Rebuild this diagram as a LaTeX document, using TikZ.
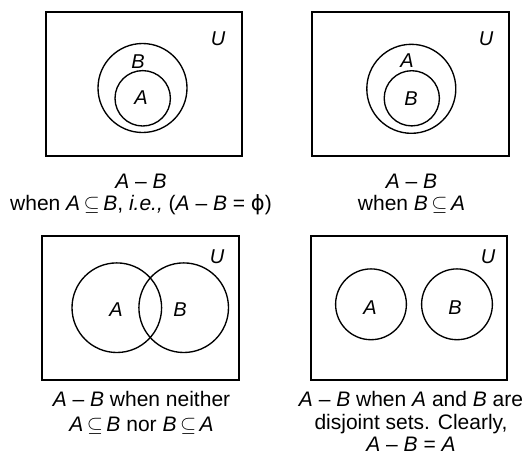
\documentclass[tikz,border=0pt]{standalone}
\usepackage{fontspec}
\setmainfont{Liberation Sans}
\newfontfamily\symfont{DejaVu Sans}
\newcommand{\iA}{\textit{A}}
\newcommand{\iB}{\textit{B}}
\newcommand{\sbe}{\,$\subseteq$\,}
\begin{document}
\begin{tikzpicture}[x=1pt,y=-1pt,
  line width=1.35pt,
  frame/.style={draw=black},
  setc/.style={draw=black},
  lbl/.style={font=\fontsize{20}{22}\selectfont\itshape, inner sep=0pt},
  captxt/.style={font=\fontsize{21}{23}\selectfont, anchor=base, inner sep=0pt,
    text height=15pt, text depth=4pt}]
\useasboundingbox (0,0) rectangle (527,456);
% ---------- top left
\draw[frame] (46,12) rectangle (242,156);
\node[lbl] (u1) at (218,39) {U};
\draw[setc] (142.5,88) circle (44.5);
\draw[setc] (142.7,98.3) circle (27.7);
\node[lbl] (b1) at (138,62) {B};
\node[lbl] (a1) at (141,98) {A};
\node[captxt] (c1a) at (141,188) {\iA\ – \iB};
\node[captxt] (c1b) at (141,210) {when \iA\sbe\iB, \textit{i.e.,} (\iA\ – \iB\ = {\symfont ϕ})};
% ---------- top right
\draw[frame] (312,12) rectangle (509,156);
\node[lbl] (u2) at (486,39) {U};
\draw[setc] (411.3,88.8) circle (44.5);
\draw[setc] (411.8,98.3) circle (27.6);
\node[lbl] (a2) at (407,61) {A};
\node[lbl] (b2) at (411,99) {B};
\node[captxt] (c2a) at (411.5,188) {\iA\ – \iB};
\node[captxt] (c2b) at (411.5,210) {when \iB\sbe\iA};
% ---------- bottom left
\draw[frame] (42,236) rectangle (239,380);
\node[lbl] (u3) at (217,257) {U};
\draw[setc] (116.8,307.7) circle (44.8);
\draw[setc] (183.7,307.7) circle (44.8);
\node[lbl] (a3) at (116,310) {A};
\node[lbl] (b3) at (180,310) {B};
\node[captxt] (c3a) at (141.5,406) {\iA\ – \iB\ when neither};
\node[captxt] (c3b) at (141.5,431) {\iA\sbe\iB\ nor \iB\sbe\iA};
% ---------- bottom right
\draw[frame] (311,236) rectangle (507,380);
\node[lbl] (u4) at (488,257) {U};
\draw[setc] (371,304.3) circle (35.4);
\draw[setc] (457,304.3) circle (35.4);
\node[lbl] (a4) at (370,308) {A};
\node[lbl] (b4) at (455,308) {B};
\node[captxt] (c4a) at (411,406) {\iA\ – \iB\ when \iA\ and \iB\ are};
\node[captxt] (c4b) at (411,429) {disjoint sets. Clearly,};
\node[captxt] (c4c) at (411,451) {\iA\ – \iB\ = \iA};
\end{tikzpicture}
\end{document}
